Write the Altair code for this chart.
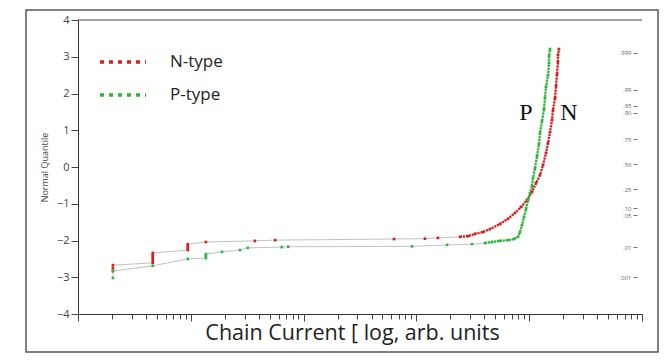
import altair as alt
import pandas as pd

# ---- data ----
n_current = [2.04, 2.04, 2.04, 4.6, 4.6, 4.6, 4.6, 4.6, 4.6, 9.4, 9.4, 9.4, 9.4, 13.6, 37, 56,
             633, 1190, 1550, 2436, 2870, 3310, 3894, 4490, 5510, 6486, 7482, 8459, 9555, 10590,
             11490, 12470, 13250, 14090, 14680, 15290, 15930, 16260, 16940, 17290, 17640, 17990,
             18000, 18370]
n_quantile = [-2.83, -2.75, -2.67, -2.61, -2.56, -2.50, -2.45, -2.39, -2.34, -2.26, -2.20, -2.15,
              -2.10, -2.04, -2.01, -1.99, -1.96, -1.95, -1.93, -1.90, -1.88, -1.82, -1.77, -1.69,
              -1.55, -1.41, -1.25, -1.09, -0.90, -0.68, -0.44, -0.22, 0.05, 0.38, 0.65, 0.95,
              1.28, 1.55, 1.88, 2.20, 2.53, 2.86, 3.05, 3.21]

p_current = [2.04, 2.04, 4.6, 9.4, 13.6, 13.6, 13.6, 18.9, 27.3, 32, 64, 73, 914, 1870, 3110,
             4060, 4680, 5510, 6490, 7330, 7960, 8285, 8630, 8995, 9370, 9760, 10160, 10590,
             10810, 11260, 11730, 12210, 12470, 12990, 13530, 13800, 14090, 14680, 14990, 15000,
             15290]
p_quantile = [-3.02, -2.83, -2.69, -2.50, -2.48, -2.42, -2.37, -2.31, -2.26, -2.20, -2.18, -2.17,
              -2.16, -2.12, -2.10, -2.07, -2.04, -2.01, -1.99, -1.96, -1.90, -1.77, -1.58, -1.36,
              -1.14, -0.90, -0.71, -0.52, -0.30, -0.03, 0.30, 0.63, 0.93, 1.25, 1.58, 1.88,
              2.18, 2.50, 2.83, 3.02, 3.21]

series_names = ["N-type", "P-type"]
series_colors = ["#d62020", "#2db83a"]

left_ticks = [-4, -3, -2, -1, 0, 1, 2, 3, 4]
prob_labels = [".999", ".99", ".95", ".90", ".75", ".50", ".25", ".10", ".05", ".01", ".001"]
prob_positions = [3.11, 2.10, 1.66, 1.47, 0.76, 0.08, -0.60, -1.12, -1.31, -2.18, -3.00]

major_ticks = [1, 10, 100, 1000, 10000, 100000]
minor_ticks = [k * m for m in [1, 10, 100, 1000, 10000] for k in range(2, 10)]

curve_labels = ["P", "N"]
curve_label_current = [9370, 22540]
curve_label_quantile = [1.28, 1.28]

x_title = "Chain Current [ log, arb. units"
y_title = "Normal Quantile"

# ---- tables ----
df = pd.concat([
    pd.DataFrame({"series": "N-type", "current": n_current, "z": n_quantile}),
    pd.DataFrame({"series": "P-type", "current": p_current, "z": p_quantile}),
], ignore_index=True)
ann = pd.DataFrame({"label": curve_labels, "current": curve_label_current, "z": curve_label_quantile})
one = pd.DataFrame({"a": [0]})

W, H = 564, 294
xs = alt.Scale(type="log", domain=[1, 100000], nice=False)
ys = alt.Scale(domain=[-4, 4], nice=False, zero=False)
cs = alt.Scale(domain=series_names, range=series_colors)

FONT = "Open Sans"

label_expr = "[" + ",".join("'%s'" % s for s in prob_labels) + "][indexof([" + \
    ",".join(str(v) for v in prob_positions) + "], datum.value)]"

gray_line = alt.Chart(df).mark_line(color="#c2c2c2", strokeWidth=1).encode(
    x=alt.X("current:Q", scale=xs, axis=alt.Axis(
        orient="bottom", values=minor_ticks, tickSize=5, labels=False, domain=False,
        grid=False, tickColor="#444", title=x_title, titleFont=FONT, titleFontSize=21.5,
        titleFontWeight="normal", titleColor="#222", titlePadding=3,
        titleX=274, titleAlign="center")),
    y=alt.Y("z:Q", scale=ys, axis=alt.Axis(
        orient="left", values=left_ticks, tickSize=7, labelPadding=2, labelFont=FONT,
        labelFontSize=11, labelColor="#444", tickColor="#444", domainColor="#333",
        grid=False, title=y_title, titleFont=FONT, titleFontSize=9,
        titleFontWeight="normal", titleColor="#444", titlePadding=7)),
    detail="series:N",
    order="z:Q",
)

dense = alt.Chart(df).transform_filter(
    "(datum.series == 'N-type' && datum.current >= 2400) || (datum.series == 'P-type' && datum.current >= 4000)"
).mark_line(strokeWidth=2.4, strokeDash=[2, 1]).encode(
    x=alt.X("current:Q", scale=xs, axis=None),
    y=alt.Y("z:Q", scale=ys, axis=None),
    color=alt.Color("series:N", scale=cs, legend=None),
    order="z:Q",
)

points = alt.Chart(df).mark_square(size=7, opacity=1).encode(
    x=alt.X("current:Q", scale=xs, axis=alt.Axis(
        orient="bottom", values=major_ticks, tickSize=7, labels=False, domain=True,
        grid=False, tickColor="#444", domainColor="#333", title=None)),
    y=alt.Y("z:Q", scale=ys, axis=alt.Axis(
        orient="right", values=prob_positions, labelExpr=label_expr, tickSize=4,
        offset=-9, labelPadding=-6, labelAlign="right", labelOverlap=False,
        labelFont=FONT, labelFontSize=6, labelColor="#666", tickColor="#777",
        domain=False, grid=False, title=None)),
    color=alt.Color("series:N", scale=cs, legend=None),
)

annot = alt.Chart(ann).mark_text(font="Liberation Serif", fontSize=24, color="#111",
                                 baseline="alphabetic", align="center").encode(
    x=alt.X("current:Q", scale=xs, axis=None),
    y=alt.Y("z:Q", scale=ys, axis=None),
    text="label:N",
)

top_rule = alt.Chart(one).mark_rule(color="#444", strokeWidth=1).encode(
    x=alt.value(0), x2=alt.value(W), y=alt.value(0))

frame = alt.Chart(one).mark_rect(fillOpacity=0, stroke="#555", strokeWidth=1.5).encode(
    x=alt.value(-52), x2=alt.value(580), y=alt.value(-10), y2=alt.value(332))

legend_layers = []
for i, (name, col) in enumerate(zip(series_names, series_colors)):
    yy = 42 + 33 * i
    legend_layers.append(alt.Chart(one).mark_rule(color=col, strokeWidth=3.5, strokeDash=[4, 5]).encode(
        x=alt.value(22), x2=alt.value(68), y=alt.value(yy)))
    legend_layers.append(alt.Chart(one).mark_text(text=name, font=FONT, fontSize=17, color="#222",
                                                  align="left", baseline="middle").encode(
        x=alt.value(92), y=alt.value(yy)))

chart = alt.layer(frame, gray_line, dense, points, annot, top_rule, *legend_layers).resolve_scale(
    x="shared", y="shared", color="shared"
).resolve_axis(
    x="independent", y="independent"
).properties(
    width=W, height=H,
    autosize=alt.AutoSizeParams(type="none"),
    padding={"left": 78, "top": 20, "right": 23, "bottom": 49},
    background="white",
).configure_view(strokeWidth=0)

chart.save("out.html", embed_options={"renderer": "svg", "actions": False})
